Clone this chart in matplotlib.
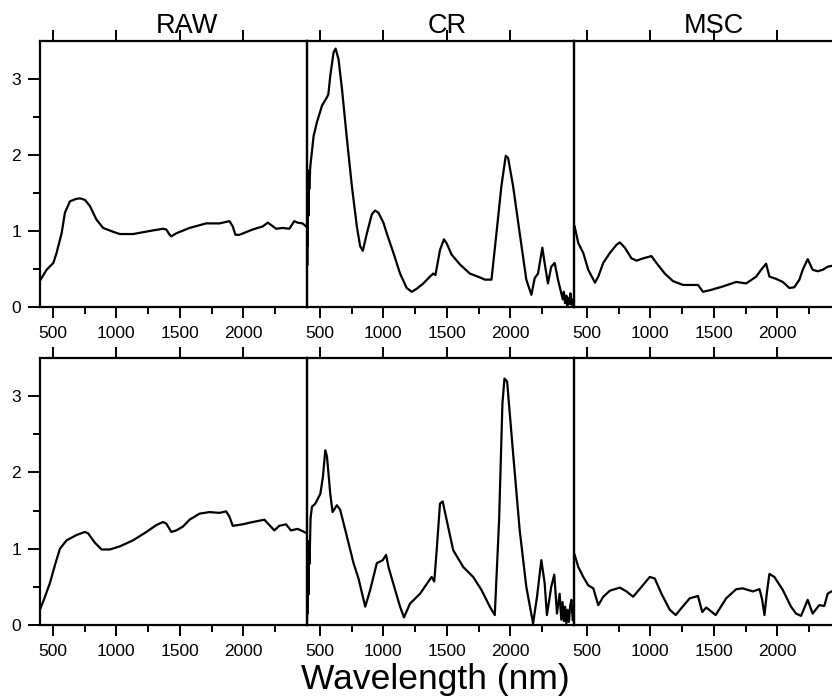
import matplotlib
matplotlib.use('Agg')
import matplotlib.pyplot as plt
from matplotlib.ticker import FixedLocator

plt.rcParams['font.family'] = ['Liberation Sans', 'DejaVu Sans']

# ---------------- data ----------------
panel_titles = ["RAW", "CR", "MSC"]
x_label = "Wavelength (nm)"
x_major = [500, 1000, 1500, 2000]
x_minor = [750, 1250, 1750, 2250]
y_major = [0, 1, 2, 3]
y_minor = [0.5, 1.5, 2.5]

raw_top_wl = [405, 452, 505, 530, 570, 596, 635, 680, 714, 753, 792, 844, 897, 975, 1027, 1132,
              1263, 1367, 1393, 1420, 1433, 1472, 1576, 1707, 1812, 1890, 1916, 1937, 1969,
              2073, 2152, 2191, 2217, 2256, 2308, 2361, 2400, 2426, 2465, 2486, 2500]
raw_top_val = [0.36, 0.49, 0.58, 0.71, 0.97, 1.24, 1.39, 1.42, 1.43, 1.41, 1.33, 1.15, 1.04, 0.99, 0.96, 0.96,
               1.00, 1.03, 1.02, 0.95, 0.93, 0.97, 1.04, 1.10, 1.10, 1.13, 1.06, 0.95, 0.95,
               1.02, 1.06, 1.11, 1.08, 1.03, 1.04, 1.03, 1.13, 1.11, 1.10, 1.07, 1.05]

cr_top_wl = [400, 402, 404, 406, 408, 411, 414, 418, 426, 452, 478, 518, 557, 568, 583, 609, 625, 648,
             675, 714, 753, 792, 818, 839, 871, 910, 936, 962, 1001, 1027, 1080, 1132, 1184,
             1224, 1263, 1315, 1367, 1393, 1410, 1446, 1477, 1498, 1537, 1603, 1681, 1759,
             1799, 1851, 1890, 1929, 1963, 1982, 2021, 2073, 2125, 2165, 2191, 2217, 2251,
             2269, 2295, 2321, 2348, 2374, 2400, 2412, 2420, 2430, 2440, 2448, 2456, 2464,
             2472, 2480, 2488, 2496]
cr_top_val = [1.00, 0.55, 1.60, 0.80, 1.80, 1.20, 1.75, 1.55, 1.85, 2.25, 2.43, 2.65, 2.76, 2.80, 3.04, 3.35, 3.40, 3.26,
              2.87, 2.21, 1.59, 1.06, 0.80, 0.74, 0.97, 1.22, 1.27, 1.24, 1.11, 0.97, 0.71, 0.44, 0.25,
              0.20, 0.24, 0.31, 0.40, 0.44, 0.42, 0.75, 0.89, 0.84, 0.69, 0.56, 0.44, 0.39,
              0.36, 0.36, 0.97, 1.59, 1.99, 1.96, 1.59, 0.97, 0.36, 0.16, 0.38, 0.44, 0.78,
              0.58, 0.31, 0.53, 0.58, 0.36, 0.18, 0.10, 0.20, 0.05, 0.15, 0.02, 0.12, 0.04,
              0.18, 0.03, 0.10, 0.02]

msc_top_wl = [405, 434, 473, 512, 565, 591, 630, 682, 735, 761, 800, 852, 892, 944, 1009, 1048,
              1114, 1179, 1258, 1375, 1393, 1414, 1467, 1571, 1676, 1754, 1833, 1872, 1911,
              1937, 1990, 2042, 2094, 2133, 2173, 2199, 2238, 2277, 2316, 2356, 2395, 2424, 2500]
msc_top_val = [1.06, 0.84, 0.71, 0.49, 0.32, 0.40, 0.58, 0.71, 0.82, 0.85, 0.78, 0.64, 0.61, 0.64, 0.67, 0.58,
               0.44, 0.34, 0.29, 0.29, 0.25, 0.20, 0.22, 0.27, 0.33, 0.31, 0.40, 0.49, 0.57,
               0.40, 0.37, 0.33, 0.25, 0.26, 0.36, 0.49, 0.63, 0.49, 0.47, 0.49, 0.53, 0.54, 0.55]

raw_bot_wl = [405, 439, 478, 520, 557, 609, 688, 753, 779, 831, 884, 949, 1027, 1132, 1237, 1315,
              1367, 1393, 1433, 1472, 1524, 1576, 1655, 1733, 1812, 1864, 1890, 1916, 1995,
              2073, 2165, 2204, 2243, 2282, 2335, 2374, 2426, 2478, 2500]
raw_bot_val = [0.22, 0.37, 0.55, 0.80, 1.00, 1.11, 1.18, 1.22, 1.20, 1.08, 0.99, 0.99, 1.03, 1.11, 1.22, 1.31,
               1.35, 1.33, 1.22, 1.24, 1.29, 1.38, 1.46, 1.48, 1.47, 1.49, 1.42, 1.30, 1.32,
               1.35, 1.38, 1.31, 1.24, 1.30, 1.32, 1.24, 1.26, 1.22, 1.20]

cr_bot_wl = [400, 403, 406, 409, 412, 416, 420, 428, 439, 465, 505, 525, 544, 557, 583, 601, 635,
             661, 714, 766, 805, 858, 897, 949, 996, 1022, 1041, 1093, 1132, 1163, 1210, 1289,
             1380, 1401, 1420, 1446, 1467, 1498, 1550, 1629, 1707, 1772, 1838, 1877, 1911,
             1937, 1953, 1974, 2021, 2073, 2125, 2178, 2209, 2243, 2269, 2287, 2321, 2345,
             2366, 2387, 2400, 2410, 2420, 2430, 2440, 2450, 2460, 2470, 2480, 2490, 2500]
cr_bot_val = [0.05, 0.60, 0.15, 0.90, 0.40, 1.10, 0.80, 1.40, 1.55, 1.59, 1.72, 1.94, 2.29, 2.21, 1.72, 1.48, 1.57,
              1.51, 1.16, 0.81, 0.61, 0.24, 0.46, 0.81, 0.85, 0.92, 0.76, 0.46, 0.24, 0.10, 0.28, 0.41,
              0.63, 0.57, 0.98, 1.59, 1.62, 1.38, 0.98, 0.76, 0.63, 0.46, 0.24, 0.13, 1.38,
              2.90, 3.23, 3.19, 2.25, 1.24, 0.50, 0.02, 0.37, 0.85, 0.55, 0.13, 0.50, 0.66,
              0.15, 0.41, 0.07, 0.30, 0.05, 0.24, 0.02, 0.20, 0.04, 0.25, 0.33, 0.06, 0.15]

msc_bot_wl = [405, 434, 473, 512, 552, 591, 630, 682, 761, 813, 865, 931, 996, 1035, 1088, 1153,
              1200, 1244, 1310, 1375, 1409, 1440, 1514, 1597, 1676, 1728, 1807, 1859, 1880,
              1898, 1916, 1937, 1976, 2042, 2107, 2146, 2186, 2238, 2277, 2329, 2369, 2395, 2424, 2500]
msc_bot_val = [0.92, 0.76, 0.63, 0.52, 0.48, 0.26, 0.37, 0.45, 0.49, 0.44, 0.37, 0.50, 0.63, 0.61, 0.41, 0.20,
               0.13, 0.22, 0.35, 0.38, 0.17, 0.23, 0.13, 0.35, 0.47, 0.48, 0.44, 0.47, 0.33,
               0.13, 0.41, 0.67, 0.63, 0.46, 0.24, 0.15, 0.12, 0.33, 0.15, 0.26, 0.25, 0.41, 0.44, 0.45]

series = [[(raw_top_wl, raw_top_val), (cr_top_wl, cr_top_val), (msc_top_wl, msc_top_val)],
          [(raw_bot_wl, raw_bot_val), (cr_bot_wl, cr_bot_val), (msc_bot_wl, msc_bot_val)]]

# ---------------- layout ----------------
W, H = 832, 698
fig = plt.figure(figsize=(W / 100, H / 100), dpi=100)
col_left_px = [40, 307, 574]
panel_w_px = 267
row_px = [(41, 307), (358, 625)]  # (top, bottom) in pixels

for r, (top_px, bot_px) in enumerate(row_px):
    for c, left_px in enumerate(col_left_px):
        ax = fig.add_axes([left_px / W, 1 - bot_px / H, panel_w_px / W, (bot_px - top_px) / H])
        wl, val = series[r][c]
        ax.plot(wl, val, color='black', lw=1.6, solid_joinstyle='round')
        ax.set_xlim(400, 2500)
        ax.set_ylim(0, 3.5)
        for sp in ax.spines.values():
            sp.set_linewidth(1.6)
        ax.xaxis.set_major_locator(FixedLocator(x_major))
        ax.xaxis.set_minor_locator(FixedLocator(x_minor))
        ax.tick_params(axis='x', which='major', direction='out', length=8, width=1.4,
                       labelsize=12.5, pad=6, top=True, labeltop=False)
        ax.tick_params(axis='x', which='minor', direction='out', length=5, width=1.4,
                       top=False)
        if c == 0:
            ax.yaxis.set_major_locator(FixedLocator(y_major))
            ax.yaxis.set_minor_locator(FixedLocator(y_minor))
            ax.tick_params(axis='y', which='major', direction='out', length=8.5, width=1.4,
                           labelsize=12.5, pad=5)
            ax.tick_params(axis='y', which='minor', direction='out', length=5, width=1.4)
        else:
            ax.yaxis.set_major_locator(FixedLocator([]))
            ax.yaxis.set_minor_locator(FixedLocator([]))
            ax.tick_params(axis='y', left=False, labelleft=False)
        ax.set_facecolor('none')

# titles
title_x_px = [187, 447, 714]
for t, xp in zip(panel_titles, title_x_px):
    fig.text(xp / W, 1 - 33 / H, t, ha='center', va='baseline', fontsize=19.5)

fig.text(435 / W, 1 - 689 / H, x_label, ha='center', va='baseline', fontsize=25.5)

fig.savefig('out.png', dpi=100)
